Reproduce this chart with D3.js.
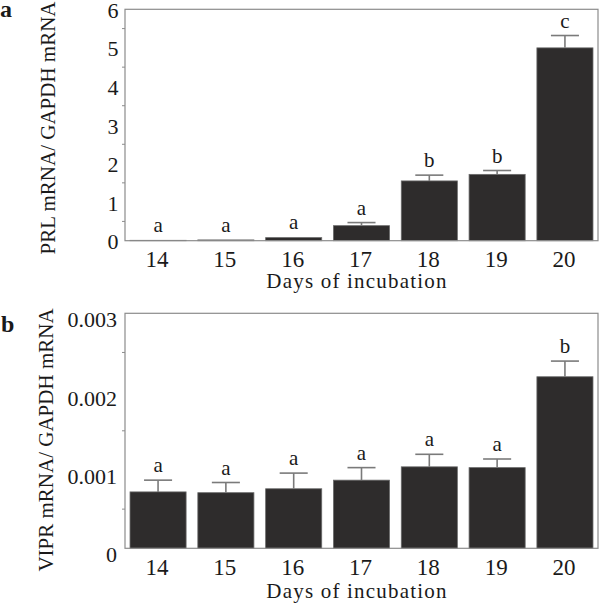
<!DOCTYPE html>
<html>
<head>
<meta charset="utf-8">
<script src="https://cdn.jsdelivr.net/npm/d3@7"></script>
<style>
  html, body { margin: 0; padding: 0; background: #fff; }
  svg { display: block; }
  text { font-family: "Liberation Serif", "Times New Roman", serif; fill: #1a1a1a; }
</style>
</head>
<body>
<svg id="chart" width="600" height="604"></svg>
<script>
const days = ["14", "15", "16", "17", "18", "19", "20"];
const prlMean = [0.01, 0.02, 0.08, 0.39, 1.55, 1.72, 5.0];
const prlErr = [0.005, 0.01, 0.02, 0.08, 0.15, 0.10, 0.32];
const prlLetters = ["a", "a", "a", "a", "b", "b", "c"];
const prlTicks = [0, 1, 2, 3, 4, 5, 6];
const prlMinor = [0.5, 1.5, 2.5, 3.5, 4.5, 5.5];

const viprMean = [0.00072, 0.00071, 0.00076, 0.00087, 0.00104, 0.00103, 0.00219];
const viprErr = [0.00015, 0.00013, 0.00020, 0.00016, 0.00016, 0.00011, 0.00020];
const viprLetters = ["a", "a", "a", "a", "a", "a", "b"];
const viprTicks = [0, 0.001, 0.002, 0.003];
const viprTickLabels = ["0", "0.001", "0.002", "0.003"];
const viprMinor = [0.0005, 0.0015, 0.0025];

const svg = d3.select("#chart");

function panel(cfg) {
  const x = d3.scaleBand().domain(days).range([125, 598])
    .paddingInner(0.173).paddingOuter(0.074);
  const y = d3.scaleLinear().domain(cfg.domain).range([cfg.bottom, cfg.top]);
  const g = svg.append("g");

  // bars
  g.selectAll("rect.bar").data(days).join("rect")
    .attr("class", "bar")
    .attr("x", d => x(d))
    .attr("width", x.bandwidth())
    .attr("y", (d, i) => y(cfg.mean[i]))
    .attr("height", (d, i) => y(0) - y(cfg.mean[i]))
    .attr("fill", "#2e2c2c")
    .attr("stroke", "#6a6a6a")
    .attr("stroke-width", 0.8);

  // error bars and letters
  const cap = x.bandwidth() / 2;
  days.forEach((d, i) => {
    const cx = x(d) + x.bandwidth() / 2;
    const yt = y(cfg.mean[i]);
    const ye = y(cfg.mean[i] + cfg.err[i]);
    if (yt - ye > 1) {
      g.append("line").attr("x1", cx).attr("x2", cx).attr("y1", yt).attr("y2", ye)
        .attr("stroke", "#7a7a7a").attr("stroke-width", 1.6);
      g.append("line").attr("x1", cx - cap / 2).attr("x2", cx + cap / 2).attr("y1", ye).attr("y2", ye)
        .attr("stroke", "#7a7a7a").attr("stroke-width", 1.6);
    }
    g.append("text").attr("x", cx).attr("y", ye - 8)
      .attr("text-anchor", "middle").attr("font-size", 21)
      .text(cfg.letters[i]);
  });

  // frame
  g.append("rect").attr("x", 125).attr("y", cfg.top)
    .attr("width", 598 - 125).attr("height", cfg.bottom - cfg.top)
    .attr("fill", "none").attr("stroke", "#8c8c8c").attr("stroke-width", 1.2);

  // minor ticks
  g.selectAll("line.minor").data(cfg.minor).join("line")
    .attr("x1", 122).attr("x2", 125)
    .attr("y1", d => y(d)).attr("y2", d => y(d))
    .attr("stroke", "#8c8c8c").attr("stroke-width", 1);

  // y tick labels
  g.selectAll("text.ytick").data(cfg.ticks).join("text")
    .attr("class", "ytick")
    .attr("x", cfg.ylabX)
    .attr("y", d => y(d) + cfg.labOff)
    .attr("text-anchor", "end")
    .attr("font-size", 22)
    .text((d, i) => cfg.tickLabels[i]);

  // x tick labels
  g.selectAll("text.xtick").data(days).join("text")
    .attr("class", "xtick")
    .attr("x", d => x(d) + x.bandwidth() / 2 - 1)
    .attr("y", cfg.bottom + cfg.xlabOff)
    .attr("text-anchor", "middle")
    .attr("font-size", 23)
    .text(d => d);

  // x title
  g.append("text").attr("x", 357).attr("y", cfg.bottom + cfg.xtitleOff)
    .attr("text-anchor", "middle").attr("font-size", 21)
    .attr("letter-spacing", 1.2)
    .text("Days of incubation");

  // y title
  g.append("text")
    .attr("transform", `translate(${cfg.ytitleX},${cfg.ytitleY}) rotate(-90)`)
    .attr("text-anchor", "middle").attr("font-size", 21)
    .text(cfg.ytitle);

  // panel letter
  svg.append("text").attr("x", cfg.panelX).attr("y", cfg.panelY)
    .attr("font-size", 24).attr("font-weight", "bold")
    .text(cfg.panel);
}

panel({
  domain: [0, 6], top: 9.3, bottom: 240.7,
  mean: prlMean, err: prlErr, letters: prlLetters,
  ticks: prlTicks, tickLabels: prlTicks.map(String), minor: prlMinor,
  ylabX: 118.5, labOff: 8.5, xlabOff: 26, xtitleOff: 47.6,
  ytitle: "PRL mRNA/ GAPDH mRNA", ytitleX: 55, ytitleY: 128,
  panel: "a", panelX: 0, panelY: 17
});

panel({
  domain: [0, 0.003], top: 313.3, bottom: 548.3,
  mean: viprMean, err: viprErr, letters: viprLetters,
  ticks: viprTicks, tickLabels: viprTickLabels, minor: viprMinor,
  ylabX: 117, labOff: 14, xlabOff: 27, xtitleOff: 49.7,
  ytitle: "VIPR mRNA/ GAPDH mRNA", ytitleX: 53, ytitleY: 440,
  panel: "b", panelX: 1, panelY: 332
});
</script>
</body>
</html>
